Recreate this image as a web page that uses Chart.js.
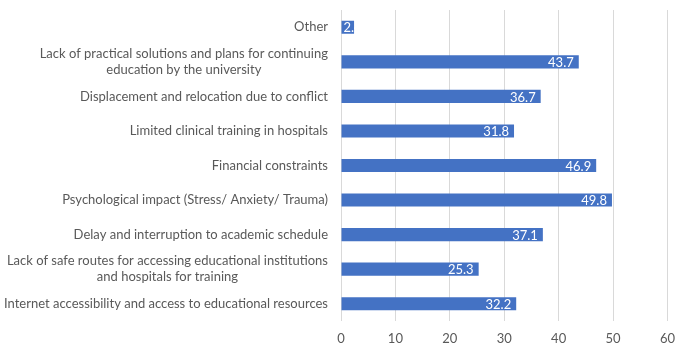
<!DOCTYPE html>
<html>
<head>
<meta charset="utf-8">
<script src="https://cdn.jsdelivr.net/npm/chart.js@4"></script>
<style>
html,body{margin:0;padding:0;background:#fff;}
#wrap{width:685px;height:348px;position:relative;}
</style>
</head>
<body>
<div id="wrap"><canvas id="c" width="685" height="348"></canvas></div>
<script>
const categories = [
  ["Other"],
  ["Lack of practical solutions and plans for continuing", "education by the university"],
  ["Displacement and relocation due to conflict"],
  ["Limited clinical training in hospitals"],
  ["Financial constraints"],
  ["Psychological impact (Stress/ Anxiety/ Trauma)"],
  ["Delay and interruption to academic schedule"],
  ["Lack of safe routes for accessing educational institutions", "and hospitals for training"],
  ["Internet accessibility and access to educational resources"]
];
const values = [2.4, 43.7, 36.7, 31.8, 46.9, 49.8, 37.1, 25.3, 32.2];
const xTicks = [0, 10, 20, 30, 40, 50, 60];

const FONT = "Lato, 'Open Sans', sans-serif";
const TEXT = "#595959";

const labelPlugin = {
  id: 'customLabels',
  afterDatasetsDraw(chart) {
    const ctx = chart.ctx;
    const meta = chart.getDatasetMeta(0);
    const yScale = chart.scales.y;
    ctx.save();
    // value labels (inside end, white)
    ctx.font = "13px " + FONT;
    ctx.fillStyle = "#ffffff";
    ctx.textBaseline = "middle";
    ctx.textAlign = "left";
    meta.data.forEach((bar, i) => {
      const txt = String(values[i]);
      const w = ctx.measureText(txt).width;
      let x = bar.x - 5 - w;
      if (x < bar.base + 2) x = bar.base + 2;
      ctx.fillText(txt, x, bar.y + 1);
    });
    // category labels: block right-aligned, lines centered
    ctx.fillStyle = TEXT;
    const right = yScale.right - 13;
    const avail = right - 4;
    ctx.font = "14px " + FONT;
    let widest = 0;
    categories.forEach(lines => lines.forEach(l => { widest = Math.max(widest, ctx.measureText(l).width); }));
    const size = Math.min(14, 14 * avail / widest);
    ctx.font = size.toFixed(2) + "px " + FONT;
    ctx.textAlign = "center";
    const lh = 16;
    categories.forEach((lines, i) => {
      const y = yScale.getPixelForTick(i);
      const maxW = Math.max(...lines.map(l => ctx.measureText(l).width));
      const cx = right - maxW / 2;
      const y0 = y - (lines.length - 1) * lh / 2;
      lines.forEach((l, j) => ctx.fillText(l, cx, y0 + j * lh));
    });
    ctx.restore();
  }
};

new Chart(document.getElementById('c'), {
  type: 'bar',
  data: {
    labels: categories,
    datasets: [{
      data: values,
      backgroundColor: '#4472C4',
      borderWidth: 0,
      barPercentage: 0.38,
      categoryPercentage: 1.0
    }]
  },
  options: {
    indexAxis: 'y',
    responsive: false,
    animation: false,
    layout: { padding: { top: 10, right: 14, left: 0, bottom: 0 } },
    plugins: { legend: { display: false }, tooltip: { enabled: false } },
    scales: {
      x: {
        min: 0, max: 60,
        afterBuildTicks(scale) { scale.ticks = xTicks.map(v => ({ value: v })); },
        grid: { color: '#d9d9d9', lineWidth: 1, drawTicks: false },
        border: { display: false },
        ticks: { color: TEXT, font: { size: 13, family: FONT }, padding: 10 },
        afterFit(scale) { scale.height = 27; }
      },
      y: {
        grid: { display: false },
        border: { display: false },
        ticks: { display: false },
        afterFit(scale) { scale.width = 341; }
      }
    }
  },
  plugins: [labelPlugin]
});
</script>
</body>
</html>
